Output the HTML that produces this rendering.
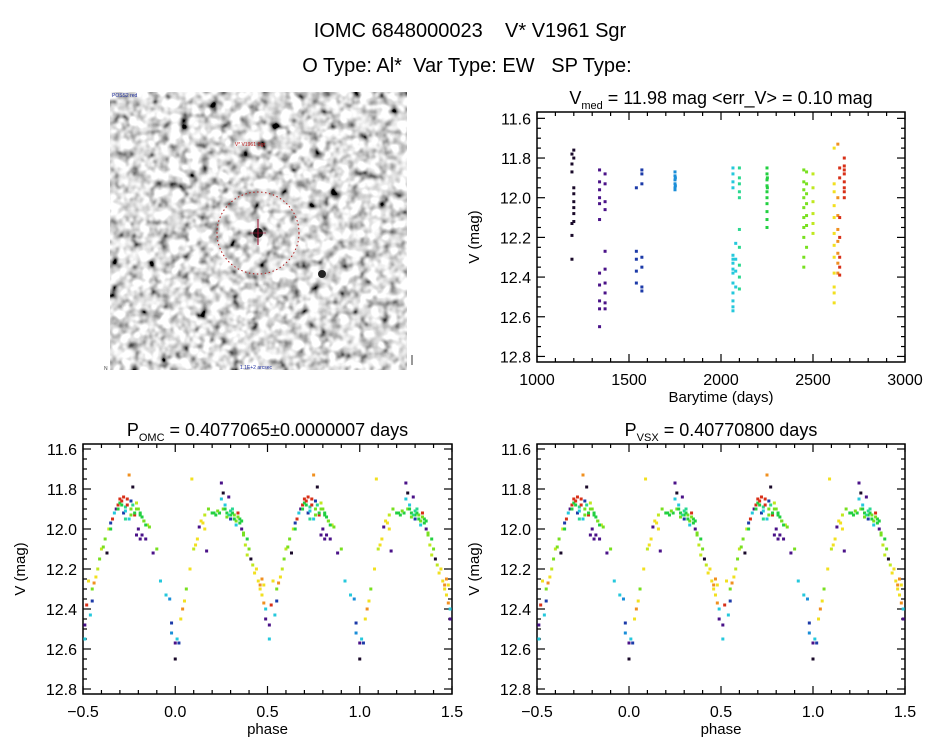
<!DOCTYPE html>
<html><head><meta charset="utf-8">
<style>
html,body{margin:0;padding:0;background:#fff;}
body{width:944px;height:747px;overflow:hidden;font-family:"Liberation Sans","DejaVu Sans",sans-serif;}
svg text{font-family:"Liberation Sans","DejaVu Sans",sans-serif;fill:#000;}
</style></head>
<body>
<svg id="fig" width="944" height="747" viewBox="0 0 944 747" xmlns="http://www.w3.org/2000/svg">
  <defs>
    <filter id="noise" x="0" y="0" width="100%" height="100%">
      <feTurbulence type="fractalNoise" baseFrequency="0.1" numOctaves="2" seed="7"/>
      <feColorMatrix type="matrix" values="0.33 0.33 0.33 0 0  0.33 0.33 0.33 0 0  0.33 0.33 0.33 0 0  0 0 0 0 1"/>
      <feComponentTransfer>
        <feFuncR type="linear" slope="3.7" intercept="-1.1"/>
        <feFuncG type="linear" slope="3.7" intercept="-1.1"/>
        <feFuncB type="linear" slope="3.7" intercept="-1.1"/>
      </feComponentTransfer>
    </filter>
    <clipPath id="imgclip"><rect x="110" y="92" width="297" height="278"/></clipPath>
  </defs>
  <text x="470" y="37" font-size="20" text-anchor="middle" xml:space="preserve">IOMC 6848000023    V* V1961 Sgr</text>
  <text x="467" y="72" font-size="20" text-anchor="middle" xml:space="preserve">O Type: Al*  Var Type: EW   SP Type:</text>

  <g clip-path="url(#imgclip)">
    <rect x="110" y="92" width="297" height="278" fill="#c8c8c8" filter="url(#noise)"/>
    <circle cx="258" cy="233" r="5" fill="#111"/>
    <circle cx="322" cy="274" r="4" fill="#222"/>
    <circle cx="258" cy="233" r="41" fill="none" stroke="#b02020" stroke-width="1" stroke-dasharray="1.5,2.5"/>
    <line x1="258" y1="219" x2="258" y2="245" stroke="#a01030" stroke-width="1"/>
    <line x1="250" y1="233" x2="266" y2="233" stroke="#a01030" stroke-width="1" opacity="0.6"/>
    <text x="250" y="146" font-size="5" text-anchor="middle" style="fill:#c02020">V* V1961 Sgr</text>
    <text x="112" y="97" font-size="5" style="fill:#2030a0">POSS2 red</text>
    <text x="256" y="369" font-size="5" text-anchor="middle" style="fill:#2030a0">1.1E+2 arcsec</text>
  </g>
  <text x="104" y="370" font-size="5" style="fill:#444">N</text>
  <line x1="412" y1="355" x2="412" y2="365" stroke="#333" stroke-width="1"/>

  <g id="p1"></g>
  <g id="p2"></g>
  <g id="p3"></g>
</svg>
<script>
// ===== Light curve vs time data (seasons) =====
const seasonTimes = [
 [1190,1190,1190,1190,1190,1190,1200,1200,1200,1200,1200,1200,1200,1200],
 [1340,1340,1340,1340,1340,1340,1340,1340,1340,1340,1340,1370,1370,1370,1370,1370,1370,1370,1370,1370,1370],
 [1540,1540,1540,1540,1540,1570,1570,1570,1570,1570,1570,1570],
 [1750,1750,1750,1750,1750,1750,1752,1752],
 [2065,2065,2065,2065,2065,2065,2065,2065,2065,2065,2065,2065,2065,2065,2080,2080,2080,2080],
 [2100,2100,2100,2100,2100,2100,2100,2100,2100,2100],
 [2250,2250,2250,2250,2250,2250,2250,2250,2250,2250,2252,2252],
 [2450,2450,2450,2450,2450,2450,2450,2450,2450,2450,2465,2465,2465,2465,2465,2465,2465],
 [2500,2500,2500,2500,2500,2500],
 [2615,2615,2615,2615,2615,2615,2615,2615,2615,2615,2615,2615],
 [2635,2635,2635,2635,2635,2635,2635,2635],
 [2670,2670,2670,2670,2670,2670,2670,2670,2645,2645,2645,2645,2645,2645,2645]
];
const seasonMags = [
 [11.78,11.83,11.87,12.13,12.19,12.31,11.76,11.80,11.95,11.98,12.02,12.05,12.08,12.12],
 [11.86,11.92,11.96,12.00,12.03,12.11,12.38,12.44,12.52,12.56,12.65,11.88,11.93,12.02,12.06,12.27,12.36,12.43,12.48,12.53,12.56],
 [11.95,12.27,12.31,12.37,12.43,11.86,11.88,11.93,12.30,12.35,12.45,12.47],
 [11.87,11.89,11.91,11.93,11.95,11.96,11.90,11.94],
 [11.85,11.88,11.92,11.95,12.29,12.31,12.33,12.36,12.38,12.43,12.48,12.52,12.55,12.57,12.23,12.31,12.37,12.45],
 [11.85,11.90,11.93,11.97,12.00,12.16,12.25,12.34,12.40,12.46],
 [11.85,11.88,11.91,11.94,11.97,12.00,12.03,12.07,12.11,12.15,11.90,11.95],
 [11.86,11.92,11.96,12.00,12.05,12.10,12.15,12.20,12.30,12.35,11.87,11.93,11.98,12.03,12.09,12.14,12.25],
 [11.88,11.95,12.02,12.08,12.13,12.18],
 [11.75,11.93,11.97,12.04,12.10,12.18,12.24,12.30,12.38,12.45,12.48,12.53],
 [11.73,12.00,12.09,12.16,12.22,12.28,12.33,12.38],
 [11.80,11.84,11.88,11.92,11.95,12.00,11.97,11.86,11.85,11.90,12.10,12.20,12.30,12.35,12.39]
];
const seasonColors = ["#1a0a2a","#4a1288","#1c3aa8","#1a8ed8","#25c8dc","#2ad890","#22d040","#78e020","#c0e820","#f2e020","#f09020","#d83018"];

// ===== Phased data (phase in [-0.5,0.5), mag, season index) =====
const phases = [-0.49,-0.49,-0.48,-0.47,-0.46,-0.45,-0.44,-0.43,-0.41,-0.40,-0.38,-0.37,-0.36,-0.35,-0.34,-0.33,-0.32,-0.31,-0.30,-0.29,-0.28,-0.27,-0.26,-0.25,-0.24,-0.23,-0.22,-0.21,-0.20,-0.19,-0.18,-0.17,-0.16,-0.15,-0.12,-0.10,-0.08,-0.05,-0.03,-0.02,0.00,0.00,0.01,0.03,0.04,0.05,0.06,0.08,0.09,0.10,0.12,0.13,0.14,0.16,0.17,0.18,0.22,0.25,0.26,0.27,0.28,0.29,0.30,0.31,0.32,0.33,0.34,0.35,0.36,0.37,0.38,0.40,0.41,0.42,0.44,0.45,0.46,0.47,0.48,0.49,0.49,
 -0.30,-0.28,-0.26,-0.24,-0.22,-0.20,-0.18,-0.27,-0.25,0.24,0.26,0.30,0.33,0.35,0.20,0.23,-0.39,-0.42,0.43,0.39,-0.02,0.02,
 -0.31,-0.29,-0.27,-0.23,-0.21,-0.19,-0.17,-0.16,-0.14,0.25,0.27,0.29,0.31,0.32,0.34,0.36,0.37,0.39,0.21,0.28,0.30,-0.21,-0.19,-0.24,0.47,0.48,0.46,-0.45,-0.35,0.15,0.16,0.11];
const phaseMags = [12.48,12.55,12.38,12.26,12.43,12.30,12.27,12.24,12.15,12.10,12.05,12.12,12.00,11.97,11.95,11.92,11.90,11.88,11.87,11.86,11.92,11.89,11.85,11.73,11.90,11.79,11.93,11.87,12.00,11.92,12.03,11.96,12.05,11.98,12.12,12.10,12.26,12.33,12.35,12.47,12.57,12.65,12.55,12.45,12.40,12.36,12.30,12.20,11.75,12.10,12.05,11.99,11.96,11.93,12.11,11.90,11.93,11.77,11.82,11.88,11.92,11.84,11.95,11.90,11.93,11.98,11.92,11.95,12.00,12.03,12.08,12.10,12.15,12.18,12.20,12.26,12.28,12.33,12.37,12.45,12.40,
 11.85,11.84,11.88,11.93,11.92,11.90,11.94,11.95,11.95,11.92,11.90,11.93,11.96,11.97,11.92,11.91,12.09,12.20,12.22,12.13,12.52,12.57,
 11.90,11.88,11.91,11.88,11.90,11.93,11.96,11.98,11.99,11.85,11.90,11.93,11.92,11.95,11.94,11.96,12.02,12.05,11.92,11.94,11.91,12.03,12.05,11.86,12.25,12.28,12.30,12.36,12.00,11.97,12.00,12.08];
const phaseSeason = [1,4,11,9,4,7,10,9,7,8,7,0,8,2,11,4,1,11,6,11,2,5,11,10,7,0,11,8,1,6,1,7,1,8,1,7,4,4,3,2,1,0,4,9,10,9,7,9,9,8,9,1,9,8,1,7,6,1,0,4,6,1,2,5,7,4,11,6,1,7,8,7,0,8,9,9,10,9,10,1,4,
 11,11,11,7,6,7,6,5,4,6,7,6,7,6,6,7,7,8,9,8,3,2,
 6,6,4,5,7,6,7,6,7,4,6,5,6,6,7,6,7,6,6,7,5,1,1,2,10,9,9,2,6,9,9,9];

// ===== Axis ticks =====
const timeTicks = [1000,1500,2000,2500,3000];
const magTicks = [11.6,11.8,12.0,12.2,12.4,12.6,12.8];
const phaseTicks = [-0.5,0.0,0.5,1.0,1.5];

const NS="http://www.w3.org/2000/svg";
function mk(tag,attrs,parent){const e=document.createElementNS(NS,tag);for(const k in attrs)e.setAttribute(k,attrs[k]);parent.appendChild(e);return e;}

function axes(g,box,xr,yr,xTicks,xMinor,yMinor,xFmt,xLabel,title,sub,titleRest){
  const sx=v=>box.x+(v-xr[0])/(xr[1]-xr[0])*box.w;
  const sy=v=>box.y+(v-yr[0])/(yr[1]-yr[0])*box.h;
  const frame=mk('rect',{x:box.x,y:box.y,width:box.w,height:box.h,fill:'none',stroke:'#000','stroke-width':1.5},g);
  
  
  for(let v=xr[0];v<=xr[1]+1e-9;v+=xMinor){
    const x=sx(v);const major=xTicks.some(t=>Math.abs(t-v)<1e-6);
    const L=major?8:4;
    mk('line',{x1:x,y1:box.y+box.h,x2:x,y2:box.y+box.h-L,stroke:'#000','stroke-width':1.2},g);
    mk('line',{x1:x,y1:box.y,x2:x,y2:box.y+L,stroke:'#000','stroke-width':1.2},g);
  }
  xTicks.forEach(t=>{
    const tx=mk('text',{x:sx(t),y:box.y+box.h+23,'font-size':16,'text-anchor':'middle'},g);
    tx.textContent=xFmt(t);
    
    
  });
  for(let v=11.6;v<=12.8+1e-9;v+=yMinor){
    const y=sy(v);const major=magTicks.some(t=>Math.abs(t-v)<1e-6);
    const L=major?8:4;
    mk('line',{x1:box.x,y1:y,x2:box.x+L,y2:y,stroke:'#000','stroke-width':1.2},g);
    mk('line',{x1:box.x+box.w,y1:y,x2:box.x+box.w-L,y2:y,stroke:'#000','stroke-width':1.2},g);
  }
  magTicks.forEach(t=>{
    const tx=mk('text',{x:box.x-6,y:sy(t)+6,'font-size':16,'text-anchor':'end'},g);
    tx.textContent=t.toFixed(1);
    
    
  });
  const xl=mk('text',{x:box.x+box.w/2,y:box.y+box.h+40,'font-size':15,'text-anchor':'middle'},g);
  xl.textContent=xLabel;
  
  
  const yl=mk('text',{x:0,y:0,'font-size':15,'text-anchor':'middle',transform:`translate(${box.x-58},${box.y+box.h/2}) rotate(-90)`},g);
  yl.textContent='V (mag)';
  
  
  const tt=mk('text',{x:box.x+box.w/2,y:box.y-8,'font-size':18,'text-anchor':'middle'},g);
  
  
  const a=document.createElementNS(NS,'tspan');a.textContent=title;tt.appendChild(a);
  const b=document.createElementNS(NS,'tspan');b.setAttribute('font-size','11');b.setAttribute('dy','5');b.textContent=sub;tt.appendChild(b);
  const c=document.createElementNS(NS,'tspan');c.setAttribute('dy','-5');c.setAttribute('xml:space','preserve');c.textContent=titleRest;tt.appendChild(c);
  return {sx,sy};
}

function dot(g,x,y,col,name){
  const r=mk('rect',{x:x-1.5,y:y-1.5,width:3,height:3,fill:col},g);
  
  
}

(function(){
  const g=document.getElementById('p1');
  
  
  const box={x:537,y:112,w:368,h:250};
  const yr=[11.568,12.828];
  const ax=axes(g,box,[1000,3000],yr,timeTicks,100,0.05,t=>String(t),'Barytime (days)','V','med',' = 11.98 mag <err_V> = 0.10 mag');
  seasonTimes.forEach((ts,si)=>{
    ts.forEach((t,i)=>dot(g,ax.sx(t),ax.sy(seasonMags[si][i]),seasonColors[si],'data-point'));
  });
})();

function phasePlot(id,box,sub,rest,name){
  const g=document.getElementById(id);
  
  
  const yr=[11.6-(449-box.y)/200,12.8+(box.y+box.h-689)/200];
  const ax=axes(g,box,[-0.5,1.5],yr,phaseTicks,0.1,0.05,t=>(t<0?'\u22120.5':t.toFixed(1)),'phase','P',sub,rest);
  phases.forEach((p,i)=>{
    const col=seasonColors[phaseSeason[i]];
    [p,p+1].forEach(pp=>{
      if(pp>=-0.5&&pp<=1.5) dot(g,ax.sx(pp),ax.sy(phaseMags[i]),col,'phase-point');
    });
  });
}
phasePlot('p2',{x:83,y:444,w:369,h:250},'OMC',' = 0.4077065\u00b10.0000007 days','phase-plot-omc');
phasePlot('p3',{x:537,y:444,w:368,h:250},'VSX',' = 0.40770800 days','phase-plot-vsx');
</script>
</body></html>
